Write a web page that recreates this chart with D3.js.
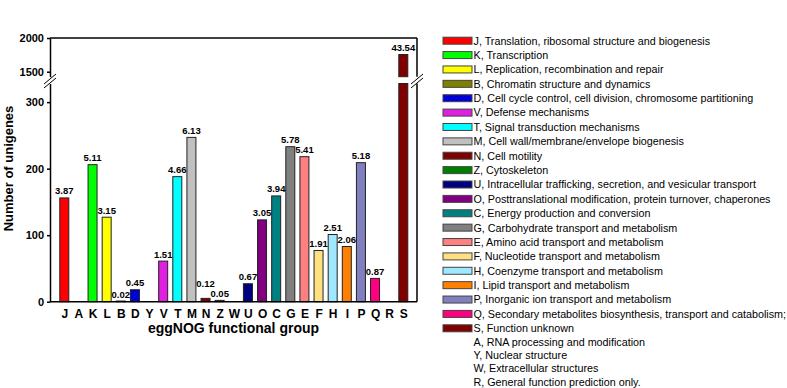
<!DOCTYPE html>
<html>
<head>
<meta charset="utf-8">
<script src="https://cdn.jsdelivr.net/npm/d3@7"></script>
<style>
body { margin: 0; background: #fff; }
text { font-family: Arial, "Liberation Sans", sans-serif; }
</style>
</head>
<body>
<div id="chart"></div>
<script>
// eggNOG categories in plotting order
var categories = ['J','A','K','L','B','D','Y','V','T','M','N','Z','W','U','O','C','G','E','F','H','I','P','Q','R','S'];
var counts = [156, 0, 206, 127, 1, 18, 0, 61, 188, 247, 5, 2, 0, 27, 123, 159, 233, 218, 77, 101, 83, 209, 35, 0, 1755];
var percents = ['3.87','','5.11','3.15','0.02','0.45','','1.51','4.66','6.13','0.12','0.05','','0.67','3.05','3.94','5.78','5.41','1.91','2.51','2.06','5.18','0.87','','43.54'];
var barColors = ['#ff0000',null,'#00ff00','#ffff00','#808000','#0000ff',null,'#e020e0','#00ffff','#c0c0c0','#800000','#008000',null,'#000080','#800080','#008080','#808080','#ff8080','#ffe080','#a0e8ff','#ff8000','#8080c0','#ff0080',null,'#800000'];

var legendKeys = ['J','K','L','B','D','V','T','M','N','Z','U','O','C','G','E','F','H','I','P','Q','S','A','Y','W','R'];
var legendLabels = [
  'J, Translation, ribosomal structure and biogenesis',
  'K, Transcription',
  'L, Replication, recombination and repair',
  'B, Chromatin structure and dynamics',
  'D, Cell cycle control, cell division, chromosome partitioning',
  'V, Defense mechanisms',
  'T, Signal transduction mechanisms',
  'M, Cell wall/membrane/envelope biogenesis',
  'N, Cell motility',
  'Z, Cytoskeleton',
  'U, Intracellular trafficking, secretion, and vesicular transport',
  'O, Posttranslational modification, protein turnover, chaperones',
  'C, Energy production and conversion',
  'G, Carbohydrate transport and metabolism',
  'E, Amino acid transport and metabolism',
  'F, Nucleotide transport and metabolism',
  'H, Coenzyme transport and metabolism',
  'I, Lipid transport and metabolism',
  'P, Inorganic ion transport and metabolism',
  'Q, Secondary metabolites biosynthesis, transport and catabolism;',
  'S, Function unknown',
  'A, RNA processing and modification',
  'Y, Nuclear structure',
  'W, Extracellular structures',
  'R, General function prediction only.'
];

var yTicksLow = [0, 100, 200, 300];
var yTicksHigh = [1500, 2000];

var width = 787, height = 388;
var plotLeft = 50, plotRight = 417, plotBottom = 301.7, plotTop = 38;

var svg = d3.select('#chart')
  .append('svg')
  .attr('width', width)
  .attr('height', height);

var defs = svg.append('defs');
var hatch = defs.append('pattern')
  .attr('id', 'hatch')
  .attr('patternUnits', 'userSpaceOnUse')
  .attr('width', 3).attr('height', 3)
  .attr('patternTransform', 'rotate(45)');
hatch.append('rect').attr('width', 3).attr('height', 3).attr('fill', '#0000ff');
hatch.append('line').attr('x1', 0).attr('y1', 0).attr('x2', 0).attr('y2', 3)
  .attr('stroke', '#000040').attr('stroke-width', 1.2);

function fillFor(key, color) {
  return key === 'D' ? 'url(#hatch)' : color;
}

// scales: broken y axis
var x = d3.scalePoint().domain(categories).range([64.3, 403.3]);
var yLow = d3.scaleLinear().domain([0, 328]).range([plotBottom, 83.5]);
var yHigh = d3.scaleLinear().domain([1426, 2000]).range([76.7, plotTop]);
var barW = 9;

var data = categories.map(function(c, i) {
  return { key: c, value: counts[i], pct: percents[i], color: barColors[i] };
}).filter(function(d) { return d.value > 0; });

// lower bar segments
svg.append('g').selectAll('rect')
  .data(data)
  .enter()
  .append('rect')
  .attr('x', function(d) { return x(d.key) - barW / 2; })
  .attr('y', function(d) { return yLow(Math.min(d.value, 328)); })
  .attr('width', barW)
  .attr('height', function(d) { return plotBottom - yLow(Math.min(d.value, 328)); })
  .attr('fill', function(d) { return fillFor(d.key, d.color); })
  .attr('stroke', '#222')
  .attr('stroke-width', 1);

// upper bar segments
svg.append('g').selectAll('rect')
  .data(data.filter(function(d) { return d.value > 1426; }))
  .enter()
  .append('rect')
  .attr('x', function(d) { return x(d.key) - barW / 2; })
  .attr('y', function(d) { return yHigh(d.value); })
  .attr('width', barW)
  .attr('height', function(d) { return yHigh(1426) - yHigh(d.value); })
  .attr('fill', function(d) { return d.color; })
  .attr('stroke', '#222')
  .attr('stroke-width', 1);

// value labels (N is lifted so it clears the Z label)
svg.append('g').selectAll('text')
  .data(data)
  .enter()
  .append('text')
  .attr('x', function(d) { return x(d.key); })
  .attr('y', function(d) {
    var lift = d.key === 'N' ? 8 : 0;
    return (d.value > 1426 ? yHigh(d.value) : yLow(d.value)) - 3.5 - lift;
  })
  .attr('text-anchor', 'middle')
  .attr('font-size', '9.5px')
  .attr('font-weight', 'bold')
  .text(function(d) { return d.pct; });

// axes
var fmt = d3.format('d');
var axisLow = svg.append('g')
  .attr('transform', 'translate(' + plotLeft + ',0)')
  .call(d3.axisLeft(yLow).tickValues(yTicksLow).tickFormat(fmt).tickSize(3).tickSizeOuter(0).tickPadding(3));
var axisHigh = svg.append('g')
  .attr('transform', 'translate(' + plotLeft + ',0)')
  .call(d3.axisLeft(yHigh).tickValues(yTicksHigh).tickFormat(fmt).tickSize(3).tickSizeOuter(0).tickPadding(3));
[axisLow, axisHigh].forEach(function(a) {
  a.selectAll('path, line').attr('stroke', '#000').attr('stroke-width', 1.5);
  a.selectAll('text').attr('font-size', '11px').attr('font-weight', 'bold')
    .attr('fill', '#000').attr('font-family', 'Arial, "Liberation Sans", sans-serif');
});

var xAxis = svg.append('g')
  .attr('transform', 'translate(0,' + plotBottom + ')')
  .call(d3.axisBottom(x).tickSize(0).tickPadding(8));
xAxis.select('.domain').remove();
xAxis.selectAll('text').attr('font-size', '12px').attr('font-weight', 'bold')
  .attr('fill', '#000').attr('font-family', 'Arial, "Liberation Sans", sans-serif');

// frame lines
var frame = svg.append('g').attr('stroke', '#000').attr('stroke-width', 1.5).attr('fill', 'none');
frame.append('line').attr('x1', plotLeft).attr('x2', plotRight).attr('y1', plotBottom).attr('y2', plotBottom);
frame.append('line').attr('x1', plotLeft).attr('x2', plotRight).attr('y1', plotTop).attr('y2', plotTop);
frame.append('line').attr('x1', plotRight).attr('x2', plotRight).attr('y1', plotTop).attr('y2', yHigh(1426));
frame.append('line').attr('x1', plotRight).attr('x2', plotRight).attr('y1', yLow(328)).attr('y2', plotBottom);

// break marks
[plotLeft, plotRight].forEach(function(bx) {
  var g = svg.append('g');
  g.append('polygon')
    .attr('points', [[bx - 6, 84], [bx + 6, 74], [bx + 6, 78], [bx - 6, 88]].join(' '))
    .attr('fill', '#fff');
  g.append('line').attr('x1', bx - 6).attr('y1', 84).attr('x2', bx + 6).attr('y2', 74)
    .attr('stroke', '#000').attr('stroke-width', 1);
  g.append('line').attr('x1', bx - 6).attr('y1', 88).attr('x2', bx + 6).attr('y2', 78)
    .attr('stroke', '#000').attr('stroke-width', 1);
});

// axis titles
svg.append('text')
  .attr('transform', 'translate(13,' + 168.5 + ') rotate(-90)')
  .attr('text-anchor', 'middle')
  .attr('font-size', '13px')
  .attr('font-weight', 'bold')
  .text('Number of unigenes');

svg.append('text')
  .attr('x', (plotLeft + plotRight) / 2)
  .attr('y', 333)
  .attr('text-anchor', 'middle')
  .attr('font-size', '14px')
  .attr('font-weight', 'bold')
  .text('eggNOG functional group');

// legend
var legend = svg.append('g');
var rows = legend.selectAll('g')
  .data(legendKeys)
  .enter()
  .append('g')
  .attr('transform', function(k, i) {
    var cy = i <= 20 ? 40.7 + i * 14.38 : 328.3 + (i - 20) * 13.35;
    return 'translate(0,' + cy + ')';
  });
rows.filter(function(k) { return barColors[categories.indexOf(k)] !== null; })
  .append('rect')
  .attr('x', 443)
  .attr('y', -3.5)
  .attr('width', 29)
  .attr('height', 7)
  .attr('fill', function(k) { return fillFor(k, barColors[categories.indexOf(k)]); })
  .attr('stroke', '#444')
  .attr('stroke-width', 1);
rows.append('text')
  .attr('x', 473.5)
  .attr('y', 0)
  .attr('dy', '0.36em')
  .attr('font-size', '10.75px')
  .text(function(k, i) { return legendLabels[i]; });
</script>
</body>
</html>
